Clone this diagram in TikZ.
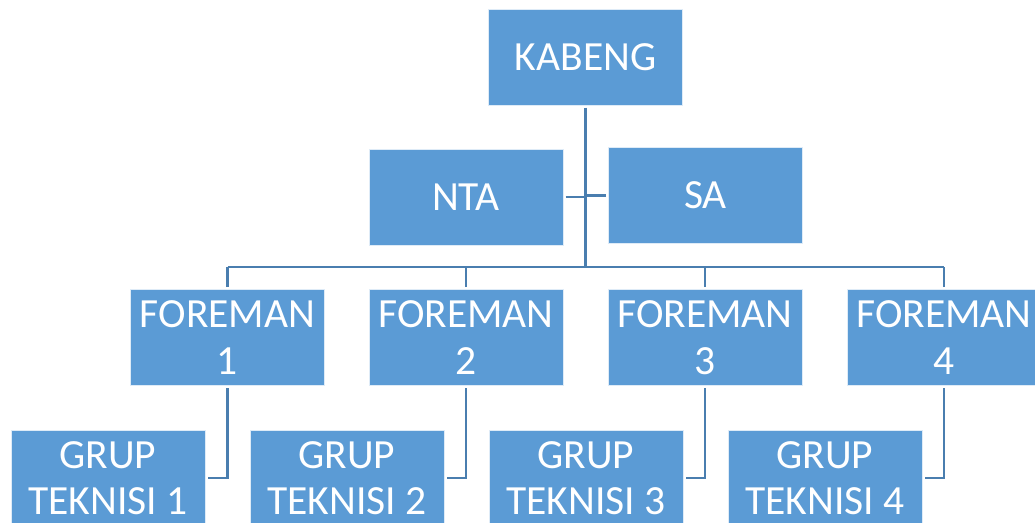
\documentclass[tikz,border=0pt]{standalone}
\usepackage{fontspec}
\setmainfont{Carlito}
\definecolor{boxblue}{HTML}{5B9BD5}
\definecolor{linkblue}{HTML}{4A7EAF}
\tikzset{
  orgbox/.style={rectangle, fill=boxblue, draw=white!80!boxblue, line width=0.8pt,
    minimum width=194pt, minimum height=96pt, inner sep=0pt, outer sep=2.5pt,
    text=white, align=center, font=\fontsize{41.5pt}{46.5pt}\selectfont},
  link/.style={draw=linkblue, line width=2.6pt}
}
\begin{document}
\begin{tikzpicture}[x=1pt,y=-1pt]
\useasboundingbox (0,0) rectangle (1035,522);
\node[orgbox] (K) at (585.5,57) {KABENG};
\node[orgbox] (NTA) at (466,197) {NTA};
\node[orgbox] (SA) at (705.5,195.5) {SA};
\node[orgbox] (F1) at (227.5,337.5) {FOREMAN\\1};
\node[orgbox] (F2) at (466,337.5) {FOREMAN\\2};
\node[orgbox] (F3) at (705,337.5) {FOREMAN\\3};
\node[orgbox] (F4) at (944,337.5) {FOREMAN\\4};
\node[orgbox] (G1) at (108,478) {GRUP\\TEKNISI 1};
\node[orgbox] (G2) at (347,478) {GRUP\\TEKNISI 2};
\node[orgbox] (G3) at (586,478) {GRUP\\TEKNISI 3};
\node[orgbox] (G4) at (825,478) {GRUP\\TEKNISI 4};
\coordinate (bus) at (0,267);
\draw[link] (K.south) -- (K.south |- bus);
\draw[link] (NTA.east) -- (NTA.east -| K.south);
\draw[link] (SA.west) -- (SA.west -| K.south);
\draw[link] (F1.north |- bus) -- (F4.north |- bus);
\foreach \f in {F1,F2,F3,F4} {
  \draw[link] (\f.north) -- (\f.north |- bus);
}
\draw[link] (F1.south) -- (F1.south |- G1.east) -- (G1.east);
\draw[link] (F2.south) -- (F2.south |- G2.east) -- (G2.east);
\draw[link] (F3.south) -- (F3.south |- G3.east) -- (G3.east);
\draw[link] (F4.south) -- (F4.south |- G4.east) -- (G4.east);
\end{tikzpicture}
\end{document}
